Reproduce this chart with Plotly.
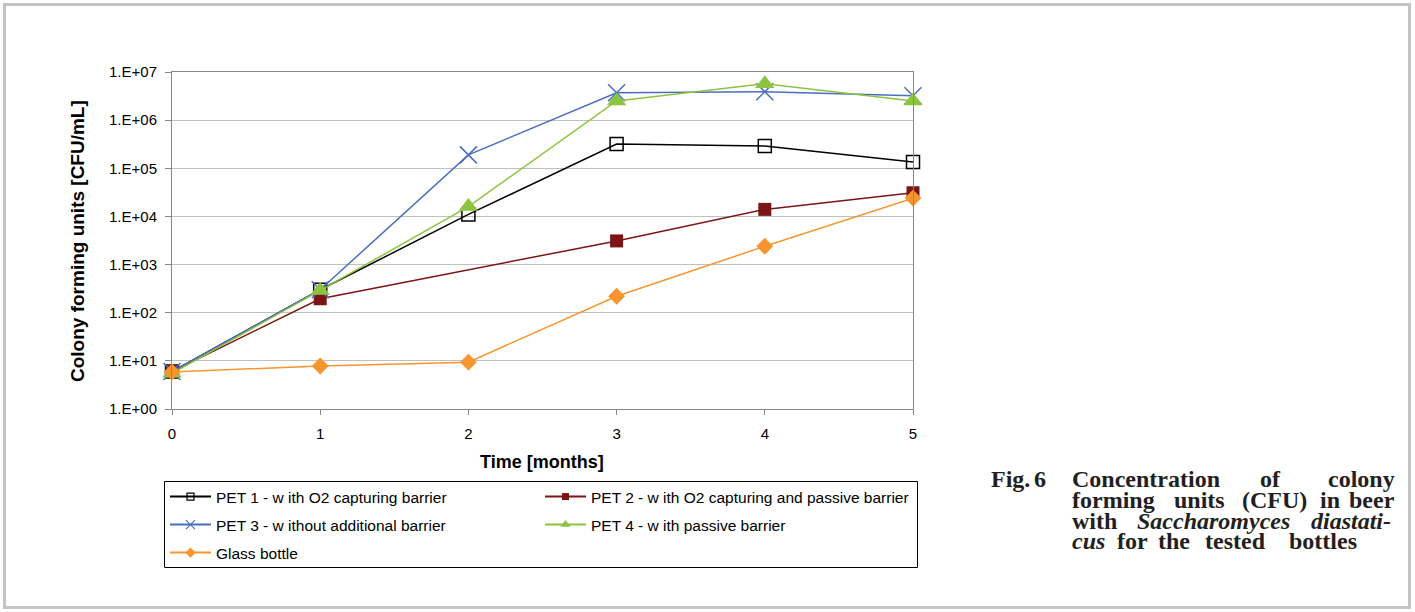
import plotly.graph_objects as go

# ---------------- data ----------------
months = [0, 1, 2, 3, 4, 5]
pet1 = [6, 300, 11000, 320000, 290000, 135000]
pet2 = [6, 195, None, 3100, 14000, 31000]
pet3 = [6, 300, 190000, 3700000, 3900000, 3200000]
pet4 = [5.5, 290, 16000, 2500000, 5700000, 2500000]
glass = [5.9, 7.8, 9.4, 220, 2400, 24000]

series_names = [
    "PET 1 - w ith O2 capturing barrier",
    "PET 2 - w ith O2 capturing and passive barrier",
    "PET 3 - w ithout additional barrier",
    "PET 4 - w ith passive barrier",
    "Glass bottle",
]
y_tick_values = [1, 10, 100, 1000, 10000, 100000, 1000000, 10000000]
y_tick_labels = ["1.E+00", "1.E+01", "1.E+02", "1.E+03", "1.E+04", "1.E+05", "1.E+06", "1.E+07"]
x_tick_values = [0, 1, 2, 3, 4, 5]
x_title = "Time [months]"
y_title = "Colony forming units [CFU/mL]"

# ---------------- layout helpers ----------------
W, H = 1415, 612
L, R, T, B = 172, 913, 72, 409  # plot area in px


def px(xp):
    return (xp - L) / (R - L)


def py(yp):
    return (B - yp) / (B - T)


SANS = "Arial, Liberation Sans, sans-serif"
SERIF = "Times New Roman, Liberation Serif, serif"

styles = [
    dict(color="#000000", symbol="square-open", size=13, lw=1.5, mfill="#000000"),
    dict(color="#7b1416", symbol="square", size=13, lw=1.5, mfill="#7b1416"),
    dict(color="#4a6ebf", symbol="x-thin", size=17, lw=1.5, mfill="#4a6ebf"),
    dict(color="#8dc43f", symbol="triangle-up", size=17, lw=1.5, mfill="#8dc43f"),
    dict(color="#f7962f", symbol="diamond", size=13, lw=1.5, mfill="#f7962f"),
]
series = [pet1, pet2, pet3, pet4, glass]

fig = go.Figure()
for name, ys, st in zip(series_names, series, styles):
    marker = dict(symbol=st["symbol"], size=st["size"], color=st["mfill"],
                  line=dict(color=st["color"], width=1.5 if st["symbol"] in ("square-open", "x-thin") else 0))
    fig.add_trace(go.Scatter(
        x=months, y=ys, mode="lines+markers", name=name, showlegend=False,
        connectgaps=True, cliponaxis=False,
        line=dict(color=st["color"], width=st["lw"]), marker=marker,
    ))

# legend proxies (one legend per entry so each can be placed like the original)
legend_pos = [(165, 497), (540, 497), (165, 525), (540, 525), (165, 553)]
legend_keys = ["legend", "legend2", "legend3", "legend4", "legend5"]
for i, (name, st) in enumerate(zip(series_names, styles)):
    msize = {"x-thin": 9, "triangle-up": 9, "diamond": 8}.get(st["symbol"], 7)
    fig.add_trace(go.Scatter(
        x=[None], y=[None], mode="lines+markers", name=name, legend=legend_keys[i],
        line=dict(color=st["color"], width=2),
        marker=dict(symbol=st["symbol"], size=msize, color=st["mfill"],
                    line=dict(color=st["color"], width=1.2 if st["symbol"] in ("square-open", "x-thin") else 0)),
    ))

legend_layouts = {}
for key, (lx, ly) in zip(legend_keys, legend_pos):
    legend_layouts[key] = dict(
        x=px(lx), y=py(ly), xanchor="left", yanchor="middle",
        bgcolor="rgba(0,0,0,0)", borderwidth=0, itemwidth=41,
        font=dict(family=SANS, size=15.5, color="#000000"),
    )

shapes = [
    # outer frame
    dict(type="rect", xref="paper", yref="paper", x0=px(4.5), x1=px(1409.5), y0=py(607.5), y1=py(4.5),
         line=dict(color="#c3c3c3", width=3), layer="below"),
    # legend box
    dict(type="rect", xref="paper", yref="paper", x0=px(164.5), x1=px(917.5), y0=py(567.5), y1=py(481.5),
         line=dict(color="#000000", width=1)),
]

annotations = [
    dict(text=y_title, x=px(77), y=py(241), xref="paper", yref="paper", textangle=-90, showarrow=False,
         xanchor="center", yanchor="middle",
         font=dict(family=SANS, size=19, color="#000000", weight="bold")),
    dict(text=x_title, x=px(542), y=py(462), xref="paper", yref="paper", showarrow=False,
         xanchor="center", yanchor="middle",
         font=dict(family=SANS, size=18, color="#000000", weight="bold")),
]

# caption, word by word to mimic the justified setting of the original
caption_words = [
    # (text, anchor px, line center px, italic, anchor side)
    ("Fig.", 989, 479, False, "left"), ("6", 1032, 479, False, "left"),
    ("Concentration", 1070, 479, False, "left"),
    ("of", 1258, 479, False, "left"), ("colony", 1397, 479, False, "right"),
    ("forming", 1070, 500, False, "left"), ("units", 1172, 500, False, "left"),
    ("(CFU)", 1240, 500, False, "left"), ("in", 1318, 500, False, "left"),
    ("beer", 1397, 500, False, "right"),
    ("with", 1070, 520.5, False, "left"), ("Saccharomyces", 1135, 520.5, True, "left"),
    ("diastati-", 1393, 520.5, True, "right"),
    ("cus", 1070, 541, True, "left"), ("for", 1115, 541, False, "left"), ("the", 1156, 541, False, "left"),
    ("tested", 1203, 541, False, "left"), ("bottles", 1287, 541, False, "left"),
]
for txt, lx, ly, it, side in caption_words:
    annotations.append(dict(
        text=txt, x=px(lx), y=py(ly), xref="paper", yref="paper", xanchor=side, yanchor="middle",
        showarrow=False,
        font=dict(family=SERIF, size=24, color="#231f20", weight="bold", style="italic" if it else "normal"),
    ))

fig.update_layout(
    width=W, height=H, autosize=False,
    margin=dict(l=L, r=W - R, t=T, b=H - B, pad=0),
    paper_bgcolor="white", plot_bgcolor="white",
    showlegend=True,
    shapes=shapes, annotations=annotations,
    **legend_layouts,
)
fig.update_xaxes(
    range=[0, 5], tickvals=x_tick_values, showgrid=False, zeroline=False,
    showline=True, linecolor="#888888", linewidth=1, mirror=True,
    ticks="outside", ticklen=5, tickcolor="#888888", tickwidth=1, ticklabelstandoff=6,
    tickfont=dict(family=SANS, size=15, color="#000000"),
)
fig.update_yaxes(
    type="log", range=[0, 7], tickvals=y_tick_values, ticktext=y_tick_labels,
    showgrid=True, gridcolor="#c0c0c0", gridwidth=1, zeroline=False,
    showline=True, linecolor="#888888", linewidth=1, mirror=True,
    ticks="outside", ticklen=6, tickcolor="#888888", tickwidth=1, ticklabelstandoff=5,
    tickfont=dict(family=SANS, size=15, color="#000000"),
)

fig.write_html(
    "out.html",
    config={"displayModeBar": False},
    post_script="document.body.style.margin='0';document.documentElement.style.overflow='hidden';",
)
